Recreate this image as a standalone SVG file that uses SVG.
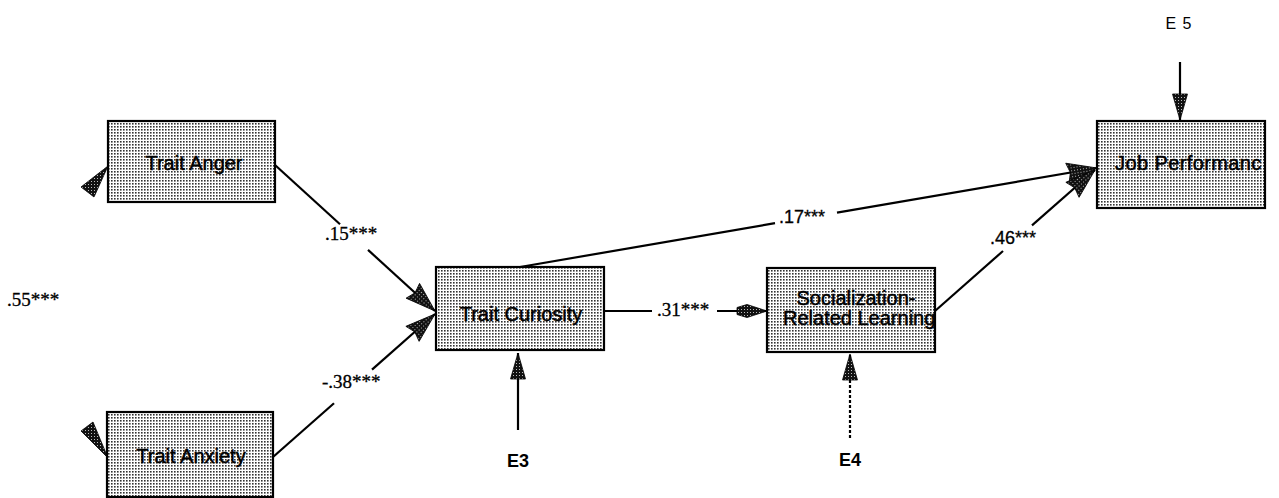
<svg xmlns="http://www.w3.org/2000/svg" width="1279" height="498" viewBox="0 0 1279 498">
<style>
.box{fill:url(#stip);stroke:#000;stroke-width:2.2}
.nt{font-family:"Liberation Sans",Arial,sans-serif;font-size:20px;fill:#000;stroke:#000;stroke-width:0.5}
.ser{font-family:"Liberation Serif","Times New Roman",serif;font-size:19px;fill:#000;stroke:#000;stroke-width:0.3}
.san{font-family:"Liberation Sans",Arial,sans-serif;font-size:18px;fill:#000;stroke:#000;stroke-width:0.3}
.eb{font-family:"Liberation Sans",Arial,sans-serif;font-size:18px;font-weight:bold;fill:#000}
.ln{fill:none;stroke:#000;stroke-width:2.2}
.head{fill:url(#dark);stroke:#000;stroke-width:0.8}
</style>
<defs>
<pattern id="stip" width="3" height="3" patternUnits="userSpaceOnUse">
<rect width="3" height="3" fill="#fff"/>
<rect width="1.6" height="1.6" fill="#333"/>
</pattern>
<pattern id="dark" width="3" height="3" patternUnits="userSpaceOnUse">
<rect width="3" height="3" fill="#111"/>
<rect x="1" y="1" width="1" height="1" fill="#bbb"/>
</pattern>
<marker id="big" viewBox="-34 -14 36 28" markerWidth="36" markerHeight="28" refX="0" refY="0" orient="auto" markerUnits="userSpaceOnUse" overflow="visible">
<path class="head" d="M0,0 L-30,-10 L-27,0 L-30,10 Z"/>
</marker>
<marker id="thin" viewBox="-34 -10 36 20" markerWidth="36" markerHeight="20" refX="0" refY="0" orient="auto" markerUnits="userSpaceOnUse" overflow="visible">
<path class="head" d="M0,0 L-20,-6.5 L-30,-3.5 L-30,3.5 L-20,6.5 Z"/>
</marker>
<marker id="small" viewBox="-30 -10 32 20" markerWidth="32" markerHeight="20" refX="0" refY="0" orient="auto" markerUnits="userSpaceOnUse" overflow="visible">
<path class="head" d="M0,0 L-26,-7.5 L-26,7.5 Z"/>
</marker>
<clipPath id="jpclip"><rect x="1097" y="121" width="167" height="87"/></clipPath>
<clipPath id="srclip"><rect x="767" y="268" width="167" height="84"/></clipPath>
</defs>

<g id="connectors">
<path class="ln" d="M275,165 L340,224.3"/>
<path class="ln" d="M368,249.9 L435,311" marker-end="url(#big)"/>
<path class="ln" d="M273,457 L334,403.2"/>
<path class="ln" d="M372,369.6 L435,314" marker-end="url(#big)"/>
<path class="ln" d="M520,267 L775,223.2"/>
<path class="ln" d="M837,212.6 L1097,168" marker-end="url(#big)"/>
<path class="ln" d="M935,311 L1003,251"/>
<path class="ln" d="M1032,225.4 L1095,170" marker-end="url(#big)"/>
<path class="ln" d="M604,311 L652,311"/>
<path class="ln" d="M717,311 L767,311" marker-end="url(#thin)"/>
<path class="ln" d="M518,430 L518,353" marker-end="url(#small)"/>
<path class="ln" d="M850,438 L850,354" stroke-dasharray="3 2" marker-end="url(#small)"/>
<path class="ln" d="M1180,62 L1180,120" marker-end="url(#small)"/>
<polygon class="head" points="108,166 81,187 94,197"/>
<polygon class="head" points="108,458 81,431 93,422"/>
<text class="ser" x="325" y="240">.15***</text>
<text class="ser" x="322" y="388">-.38***</text>
<text class="ser" x="657" y="316">.31***</text>
<text class="ser" x="7" y="306">.55***</text>
<text class="san" x="779" y="223">.17***</text>
<text class="san" x="990" y="244">.46***</text>
</g>

<g id="trait-anger">
<rect class="box" x="108" y="121" width="167" height="81"/>
<text class="nt" x="194" y="170" text-anchor="middle">Trait Anger</text>
</g>
<g id="trait-anxiety">
<rect class="box" x="107" y="412" width="166" height="85"/>
<text class="nt" x="191" y="463" text-anchor="middle">Trait Anxiety</text>
</g>
<g id="trait-curiosity">
<rect class="box" x="436" y="267" width="168" height="83"/>
<text class="nt" x="521" y="321" text-anchor="middle">Trait Curiosity</text>
</g>
<g id="socialization">
<rect class="box" x="767" y="268" width="168" height="84"/>
<g clip-path="url(#srclip)">
<text class="nt" x="856" y="305" text-anchor="middle">Socialization-</text>
<text class="nt" x="783" y="325">Related Learning</text>
</g>
</g>
<g id="job-performance">
<rect class="box" x="1097" y="121" width="168" height="87"/>
<g clip-path="url(#jpclip)">
<text class="nt" x="1115" y="170" letter-spacing="0.4">Job Performanc</text>
</g>
</g>
<g id="e3"><text class="eb" x="518" y="467" text-anchor="middle">E3</text></g>
<g id="e4"><text class="eb" x="850" y="466" text-anchor="middle">E4</text></g>
<g id="e5"><text x="1179" y="29" text-anchor="middle" style="font-family:'Liberation Sans',Arial,sans-serif;font-size:16px;letter-spacing:1px">E 5</text></g>
</svg>
